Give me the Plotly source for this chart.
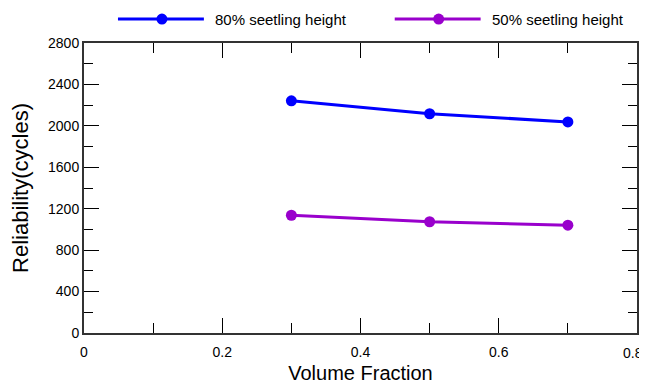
import plotly.graph_objects as go

volume_fraction = [0.3, 0.5, 0.7]
h80_values = [2242, 2117, 2038]
h50_values = [1137, 1074, 1041]
series_names = ["80% seetling height", "50% seetling height"]
series_colors = ["#0000FF", "#9900CC"]
x_ticks = [0, 0.2, 0.4, 0.6, 0.8]
y_ticks = [0, 400, 800, 1200, 1600, 2000, 2400, 2800]

OFF = 8  # browser body margin
W, H = 647 - OFF, 385 - OFF
L, T = 84 - OFF, 43 - OFF
R = W - (637.5 - OFF)
B = H - (333.5 - OFF)
pw, ph = W - L - R, H - T - B

def px(x):  # viewport x -> paper
    return (x - OFF - L) / pw

def py(y):  # viewport y -> paper
    return (H - B - (y - OFF)) / ph

fig = go.Figure()
for name, vals, col in zip(series_names, [h80_values, h50_values], series_colors):
    fig.add_trace(go.Scatter(
        x=volume_fraction, y=vals, name=name, mode="lines+markers",
        line=dict(color=col, width=3), marker=dict(color=col, size=11),
        showlegend=False, cliponaxis=False,
    ))

font = "Liberation Sans, Arial, sans-serif"
legend_items = [(118, 204, 162, 213), (395, 481, 439, 490)]
shapes = []
annotations = []
for (x0, x1, xm, xt), name, col in zip(legend_items, series_names, series_colors):
    shapes.append(dict(type="line", xref="paper", yref="paper",
                       x0=px(x0), x1=px(x1), y0=py(19), y1=py(19),
                       line=dict(color=col, width=3)))
    shapes.append(dict(type="circle", xref="paper", yref="paper",
                       x0=px(xm - 5.5), x1=px(xm + 5.5), y0=py(19 + 5.5), y1=py(19 - 5.5),
                       fillcolor=col, line=dict(color=col, width=0)))
    annotations.append(dict(xref="paper", yref="paper", x=px(xt), y=py(19),
                            xanchor="left", yanchor="middle", text=name, showarrow=False,
                            font=dict(family=font, size=15, color="#000")))

# last x tick label nudged left so it stays inside the page
annotations.append(dict(xref="x", yref="paper", x=x_ticks[-1], y=0, xshift=-4, yshift=-10,
                        xanchor="center", yanchor="top", text=str(x_ticks[-1]), showarrow=False,
                        font=dict(family=font, size=14, color="#000")))

fig.update_layout(
    width=W, height=H,
    margin=dict(l=L, r=R, t=T, b=B, autoexpand=False),
    paper_bgcolor="white", plot_bgcolor="white",
    shapes=shapes, annotations=annotations,
    font=dict(family=font, color="#000"),
    showlegend=False,
)
fig.update_xaxes(
    range=[0, 0.8], tickvals=x_ticks, ticktext=[str(v) if v != 0.8 else "" for v in x_ticks],
    ticks="inside", ticklen=15, tickcolor="#000", tickwidth=1,
    minor=dict(dtick=0.1, ticks="inside", ticklen=10, tickcolor="#000"),
    showline=True, linecolor="#333", linewidth=2, mirror="ticks",
    showgrid=False, zeroline=False, automargin=False,
    tickfont=dict(size=14, family=font), ticklabelstandoff=5,
    title=dict(text="Volume Fraction", font=dict(size=20, family=font), standoff=7),
)
fig.update_yaxes(
    range=[0, 2800], tickvals=y_ticks,
    ticks="inside", ticklen=15, tickcolor="#000", tickwidth=1,
    minor=dict(dtick=200, ticks="inside", ticklen=9, tickcolor="#000"),
    showline=True, linecolor="#333", linewidth=2, mirror="ticks",
    showgrid=False, zeroline=False, automargin=False,
    tickfont=dict(size=14, family=font),
    title=dict(text="Reliability(cycles)", font=dict(size=22, family=font), standoff=14),
)
fig.write_html("out.html")
